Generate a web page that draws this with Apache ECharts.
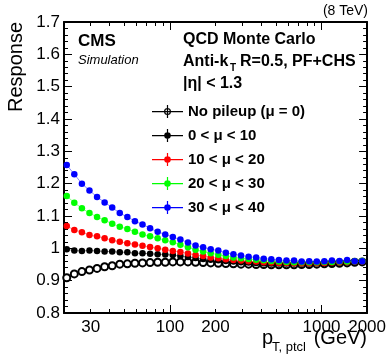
<!DOCTYPE html>
<html>
<head>
<meta charset="utf-8">
<script src="https://cdn.jsdelivr.net/npm/echarts@6/dist/echarts.min.js"></script>
<style>
  html, body { margin: 0; padding: 0; background: #fff; }
  #chart { width: 389px; height: 359px; }
</style>
</head>
<body>
<div id="chart"></div>
<script>
// pT bin centres (GeV)
const ptBins = [20.85, 23.39, 26.25, 29.45, 33.04, 37.07, 41.6, 46.67, 52.37, 58.76,
  65.93, 73.97, 83.0, 93.12, 104.5, 117.2, 131.5, 147.6, 165.6, 185.8,
  208.5, 233.9, 262.4, 294.5, 330.4, 370.7, 415.9, 466.7, 523.6, 587.5,
  659.2, 739.6, 829.9, 931.1, 1044.7, 1172, 1315, 1476, 1656, 1858];

const respNoPU = [0.909, 0.921, 0.928, 0.933, 0.938, 0.943, 0.946, 0.951, 0.952, 0.954,
  0.955, 0.956, 0.957, 0.957, 0.958, 0.958, 0.958, 0.957, 0.956, 0.955,
  0.954, 0.953, 0.952, 0.951, 0.951, 0.950, 0.950, 0.949, 0.949, 0.949,
  0.949, 0.950, 0.950, 0.951, 0.952, 0.953, 0.954, 0.955, 0.957, 0.958];
const resp0to10 = [0.997, 0.993, 0.992, 0.993, 0.992, 0.990, 0.990, 0.988, 0.988, 0.985,
  0.985, 0.983, 0.982, 0.981, 0.979, 0.976, 0.973, 0.970, 0.967, 0.965,
  0.963, 0.961, 0.959, 0.957, 0.956, 0.955, 0.954, 0.953, 0.953, 0.953,
  0.953, 0.953, 0.953, 0.954, 0.954, 0.955, 0.956, 0.957, 0.958, 0.959];
const resp10to20 = [1.069, 1.057, 1.050, 1.041, 1.037, 1.031, 1.025, 1.020, 1.016, 1.012,
  1.008, 1.004, 1.000, 0.996, 0.992, 0.989, 0.984, 0.979, 0.976, 0.972,
  0.969, 0.966, 0.964, 0.962, 0.960, 0.959, 0.957, 0.956, 0.955, 0.955,
  0.954, 0.954, 0.954, 0.955, 0.955, 0.956, 0.957, 0.958, 0.959, 0.960];
const resp20to30 = [1.162, 1.141, 1.124, 1.109, 1.097, 1.087, 1.076, 1.067, 1.060, 1.051,
  1.043, 1.037, 1.031, 1.025, 1.019, 1.011, 1.003, 0.996, 0.990, 0.985,
  0.980, 0.976, 0.972, 0.969, 0.967, 0.965, 0.963, 0.961, 0.959, 0.958,
  0.957, 0.957, 0.957, 0.957, 0.958, 0.958, 0.959, 0.959, 0.960, 0.961];
const resp30to40 = [1.258, 1.229, 1.200, 1.179, 1.159, 1.142, 1.126, 1.109, 1.097, 1.084,
  1.074, 1.062, 1.051, 1.043, 1.035, 1.027, 1.018, 1.009, 1.003, 0.997,
  0.993, 0.986, 0.982, 0.978, 0.974, 0.972, 0.968, 0.966, 0.964, 0.962,
  0.962, 0.959, 0.960, 0.959, 0.960, 0.962, 0.961, 0.964, 0.960, 0.960];

const xLabelTicks = [30, 100, 200, 1000, 2000];
const xMajorTicks = [100, 1000];
const xMinorTicks = [30, 40, 50, 60, 70, 80, 90, 200, 300, 400, 500, 600, 700, 800, 900];

const seriesNames = ['No pileup (\u03bc = 0)', '0 < \u03bc < 10', '10 < \u03bc < 20', '20 < \u03bc < 30', '30 < \u03bc < 40'];
const seriesColors = ['#000000', '#000000', '#ff0000', '#00ff00', '#0000ff'];
const seriesValues = [respNoPU, resp0to10, resp10to20, resp20to30, resp30to40];

const FONT = '"Liberation Sans", Arial, Helvetica, sans-serif';

const chart = echarts.init(document.getElementById('chart'), null, { renderer: 'canvas' });

const crossIcon = 'path://M0,6h31v1.2h-31z M14.9,0h1.2v13h-1.2z M12.2,6.6a3.3,3.3 0 1,1 6.6,0a3.3,3.3 0 1,1 -6.6,0z';
const ringIcon = 'path://M0,6h31v1.2h-31z M14.9,0h1.2v13h-1.2z M12.0,6.6a3.5,3.5 0 1,1 7,0a3.5,3.5 0 1,1 -7,0z M13.2,6.6a2.3,2.3 0 1,0 4.6,0a2.3,2.3 0 1,0 -4.6,0z';

function xAxisDef(pos, ticks, len, showLine, showLabel) {
  return {
    type: 'log', logBase: 10, min: 20, max: 2000, position: pos,
    axisLine: { show: showLine, onZero: false, lineStyle: { color: '#000', width: 2 } },
    axisTick: { show: true, inside: true, length: len, customValues: ticks, lineStyle: { color: '#000', width: 1 } },
    axisLabel: {
      show: showLabel, customValues: xLabelTicks, margin: 6,
      color: '#000', fontSize: 17, fontFamily: FONT,
      formatter: v => String(Math.round(v))
    },
    splitLine: { show: false }, minorTick: { show: false }
  };
}

function yAxisDef(pos, showLabel) {
  return {
    type: 'value', min: 0.8, max: 1.7, interval: 0.1, position: pos,
    axisLine: { show: true, onZero: false, lineStyle: { color: '#000', width: 2 } },
    axisTick: { show: true, inside: true, length: 8, lineStyle: { color: '#000', width: 1 } },
    minorTick: { show: true, splitNumber: 5, length: 4, lineStyle: { color: '#000', width: 1 } },
    axisLabel: {
      show: showLabel, margin: 4, color: '#000', fontSize: 17, fontFamily: FONT,
      formatter: v => { const s = v.toFixed(1); return s === '1.0' ? '1' : s; }
    },
    splitLine: { show: false }
  };
}

const option = {
  animation: false,
  backgroundColor: '#fff',
  grid: { left: 64, right: 21, top: 22, bottom: 46 },
  xAxis: [
    xAxisDef('bottom', xMajorTicks, 8, true, true),
    xAxisDef('bottom', xMinorTicks, 4, false, false),
    xAxisDef('top', xMajorTicks, 8, true, false),
    xAxisDef('top', xMinorTicks, 4, false, false)
  ],
  yAxis: [yAxisDef('left', true), yAxisDef('right', false)],
  legend: {
    orient: 'vertical', left: 147, top: 99,
    itemWidth: 31, itemHeight: 13, itemGap: 9,
    textStyle: { color: '#000', fontSize: 15, fontWeight: 'bold', fontFamily: FONT },
    data: seriesNames.map((n, i) => ({
      name: n, icon: i === 0 ? ringIcon : crossIcon,
      itemStyle: { color: seriesColors[i], borderWidth: 0 }
    }))
  },
  series: seriesNames.map((name, i) => ({
    name: name,
    type: 'line',
    xAxisIndex: 0, yAxisIndex: 0,
    data: ptBins.map((pt, j) => [pt, seriesValues[i][j]]),
    symbol: i === 0 ? 'emptyCircle' : 'circle',
    symbolSize: i === 0 ? 7 : 6.5,
    itemStyle: { color: seriesColors[i], borderWidth: i === 0 ? 1.1 : 0 },
    lineStyle: { color: seriesColors[i], width: 1, opacity: 0.45 },
    z: 2 + i
  })),
  graphic: [
    { type: 'text', left: 78, top: 33, style: { text: 'CMS', fill: '#000', font: 'bold 17px ' + FONT } },
    { type: 'text', left: 78, top: 54, style: { text: 'Simulation', fill: '#000', font: 'italic 13px ' + FONT } },
    { type: 'text', right: 21, top: 4, style: { text: '(8 TeV)', fill: '#000', font: '14px ' + FONT } },
    { type: 'text', left: 183, top: 32, style: { text: 'QCD Monte Carlo', fill: '#000', font: 'bold 16px ' + FONT } },
    { type: 'text', left: 183, top: 54, style: { text: 'Anti-k', fill: '#000', font: 'bold 16px ' + FONT } },
    { type: 'text', left: 230, top: 63, style: { text: 'T', fill: '#000', font: 'bold 10px ' + FONT } },
    { type: 'text', left: 240, top: 54, style: { text: 'R=0.5, PF+CHS', fill: '#000', font: 'bold 16px ' + FONT } },
    { type: 'text', left: 183, top: 76, style: { text: '|\u03b7| < 1.3', fill: '#000', font: 'bold 16px ' + FONT } },
    { type: 'text', x: 16, y: 22, rotation: Math.PI / 2,
      style: { text: 'Response', fill: '#000', font: '20px ' + FONT, align: 'right', verticalAlign: 'middle' } },
    { type: 'text', left: 262, top: 328, style: { text: 'p', fill: '#000', font: '20px ' + FONT } },
    { type: 'text', left: 272, top: 341, style: { text: 'T, ptcl', fill: '#000', font: '13px ' + FONT } },
    { type: 'text', right: 22, top: 328, style: { text: '(GeV)', fill: '#000', font: '20px ' + FONT } }
  ]
};

chart.setOption(option);
</script>
</body>
</html>
